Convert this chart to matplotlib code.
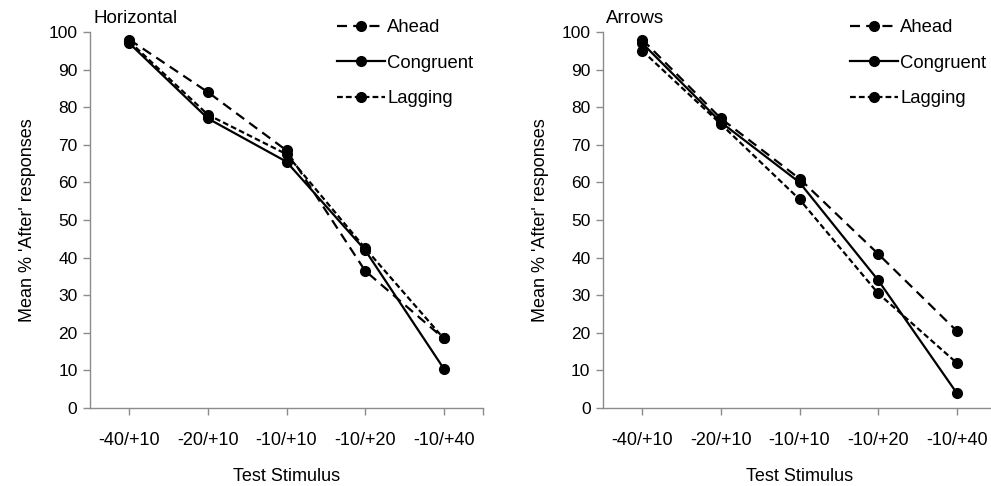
import numpy as np
import matplotlib
matplotlib.use("Agg")
import matplotlib.pyplot as plt

plt.rcParams['font.family'] = ['Liberation Sans', 'DejaVu Sans']

# -------------------------------------------------------------------------
# Data
# -------------------------------------------------------------------------
categories = ["-40/+10", "-20/+10", "-10/+10", "-10/+20", "-10/+40"]

horiz_ahead = [98, 84, 68.5, 36.5, 18.5]
horiz_congruent = [97, 77, 65.5, 42, 10.5]
horiz_lagging = [97.5, 78, 67.5, 42.5, 18.5]

arrows_ahead = [98, 77, 61, 41, 20.5]
arrows_congruent = [97, 76, 60, 34, 4]
arrows_lagging = [95, 75.5, 55.5, 30.5, 12]

panels = [
    ("Horizontal", horiz_ahead, horiz_congruent, horiz_lagging),
    ("Arrows", arrows_ahead, arrows_congruent, arrows_lagging),
]

styles = {
    "Ahead": dict(linestyle=(0, (4.5, 2.8)), color="black"),
    "Congruent": dict(linestyle="-", color="black"),
    "Lagging": dict(linestyle=(0, (2.6, 1.4)), color="black"),
}

spine_col = "#8c8c8c"
fs = 13

fig = plt.figure(figsize=(9.91, 4.86), dpi=100)
axes_rects = [
    [90 / 991, 1 - 408 / 486, 393 / 991, 376 / 486],
    [603 / 991, 1 - 408 / 486, 393 / 991, 376 / 486],
]

x = np.arange(len(categories))

for rect, (title, ahead, cong, lag) in zip(axes_rects, panels):
    ax = fig.add_axes(rect)
    for name, vals in (("Ahead", ahead), ("Congruent", cong), ("Lagging", lag)):
        ax.plot(x, vals, marker="o", markersize=7, linewidth=1.6,
                label=name, clip_on=False, **styles[name])

    ax.set_xlim(-0.5, 4.5)
    ax.set_ylim(0, 100)
    ax.set_yticks(np.arange(0, 101, 10))
    ax.set_xticks(x)
    ax.set_xticks([4.5], minor=True)
    ax.set_xticklabels(categories, fontsize=fs)
    ax.tick_params(axis="y", labelsize=fs - 0.5, length=5, color=spine_col, width=1, pad=4)
    ax.tick_params(axis="x", which="both", direction="out", length=5, color=spine_col,
                   width=1, pad=12)

    for side in ("top", "right"):
        ax.spines[side].set_visible(False)
    for side in ("left", "bottom"):
        ax.spines[side].set_color(spine_col)
        ax.spines[side].set_linewidth(1)

    ax.set_ylabel("Mean % 'After' responses", fontsize=fs, labelpad=9)
    ax.set_xlabel("Test Stimulus", fontsize=fs, labelpad=14)
    ax.text(0.008, 1.012, title, transform=ax.transAxes, fontsize=fs + 0.5,
            ha="left", va="bottom")

    ax.legend(loc="upper right", bbox_to_anchor=(0.975, 1.034), frameon=False,
              fontsize=fs + 0.3, handlelength=2.6, handletextpad=0.1,
              labelspacing=1.0, numpoints=1, borderaxespad=0, borderpad=0)

fig.savefig("out.png", dpi=100)
